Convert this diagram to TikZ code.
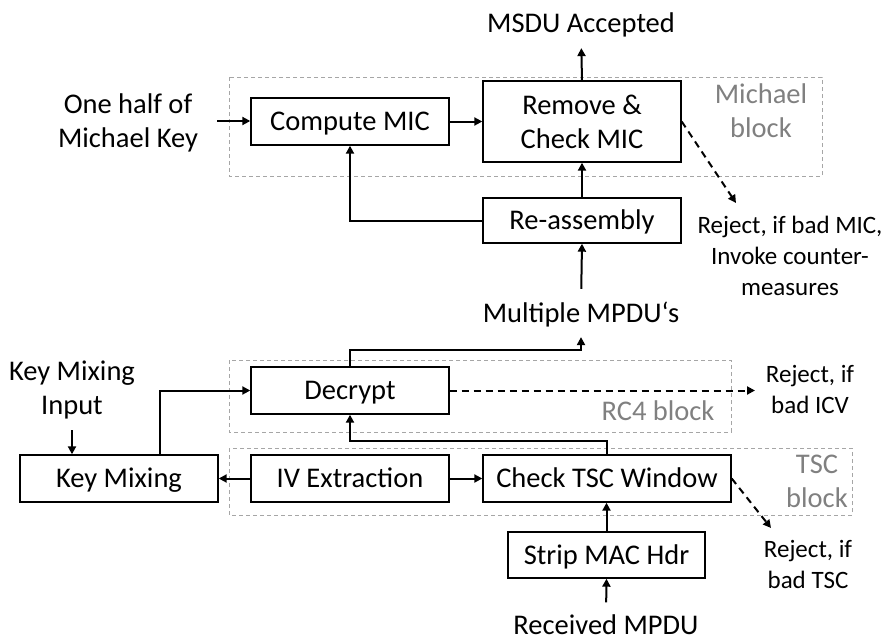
\documentclass[tikz,border=0pt]{standalone}
\usepackage{fontspec}
\setmainfont{Carlito}
\usetikzlibrary{arrows.meta}
\definecolor{blockgray}{RGB}{166,166,166}
\definecolor{labelgray}{RGB}{128,128,128}
\begin{document}
\begin{tikzpicture}[x=1pt,y=-1pt,
  every node/.style={font=\fontsize{28.5}{34}\selectfont, align=center, inner sep=0pt, text depth=0pt},
  oneline/.style={text height=18.8pt},
  smalltext/.style={font=\fontsize{25}{31}\selectfont},
  boxframe/.style={draw, line width=1.4pt, minimum width=198pt, minimum height=47pt},
  procbox/.style={boxframe, oneline},
  blockframe/.style={draw=blockgray, line width=0.9pt, dash pattern=on 4pt off 3pt},
  blocklabel/.style={text=labelgray},
  arr/.style={line width=2pt, -{Triangle[length=8pt,width=8pt]}},
  rejarr/.style={arr, dash pattern=on 7pt off 5pt},
]
\useasboundingbox (0,0) rectangle (885,634);

% dashed grouping frames
\draw[blockframe] (229,77) rectangle (822,176);
\draw[blockframe] (229,360) rectangle (731,432);
\draw[blockframe] (229,448) rectangle (852,515);
\node[blocklabel] (lblmich) at (761,111) {Michael\\block};
\node[blocklabel, oneline] (lblrc4) at (658,411) {RC4 block};
\node[blocklabel] (lbltsc) at (817,481) {TSC\\block};

% processing boxes
\node[procbox] (cmic) at (350,121.5) {Compute MIC};
\node[boxframe, minimum height=81pt] (rem) at (582,121.5) {Remove \&\\Check MIC};
\node[procbox, minimum height=45pt] (reas) at (582,220.5) {Re-assembly};
\node[procbox] (dec) at (350,390.5) {Decrypt};
\node[procbox] (kmix) at (119,478.5) {Key Mixing};
\node[procbox] (iv) at (350,478.5) {IV Extraction};
\node[procbox, minimum width=248pt] (ctsc) at (607,478.5) {Check TSC Window};
\node[procbox, minimum width=197pt, minimum height=46pt] (strip) at (606.5,555) {Strip MAC Hdr};

% free texts
\node[oneline] (msdu) at (581,23.5) {MSDU Accepted};
\node (half) at (128,121) {One half of\\Michael Key};
\node[oneline] (mult) at (581,313.5) {Multiple MPDU‘s};
\node (kmi) at (72,388) {Key Mixing\\Input};
\node[oneline] (recv) at (606,625) {Received MPDU};
\node[smalltext] (rejmic) at (790,255.5) {Reject, if bad MIC,\\Invoke counter-\\measures};
\node[smalltext] (rejicv) at (810,389) {Reject, if\\bad ICV};
\node[smalltext] (rejtsc) at (808,564.5) {Reject, if\\bad TSC};

% free ends of the reject arrows
\coordinate (micend) at (736,203);
\coordinate (icvend) at (755,390.5);
\coordinate (tscend) at (771,528);

% connectors
\draw[arr, shorten <=19pt] (half.east) -- (half.east -| cmic.west);
\draw[arr] (cmic.east) -- (cmic.east -| rem.west);
\draw[arr, shorten >=15pt] (rem.north) -- (msdu.south);
\draw[arr] (reas.north) -- (rem.south);
\draw[arr, shorten <=15pt] (mult.north) -- (reas.south);
\draw[arr] (reas.west) -| (cmic.south);
\draw[rejarr] (rem.east) -- (micend);

\draw[arr, shorten <=15pt] (kmi.south) -- (kmi.south |- kmix.north);
\draw[arr] ([xshift=41pt]kmix.north) |- (dec.west);
\draw[arr, shorten >=14pt] (dec.north) -- ++(0,-16) -| (mult.south);
\draw[arr] (ctsc.north) -- ++(0,-13) -| (dec.south);
\draw[arr] (iv.west) -- (kmix.east);
\draw[arr] (iv.east) -- (ctsc.west);
\draw[rejarr] (dec.east) -- (icvend);
\draw[rejarr] (ctsc.east) -- (tscend);
\draw[arr] (strip.north) -- (strip.north |- ctsc.south);
\draw[arr, shorten <=13pt] (recv.north) -- (strip.south);
\end{tikzpicture}
\end{document}
